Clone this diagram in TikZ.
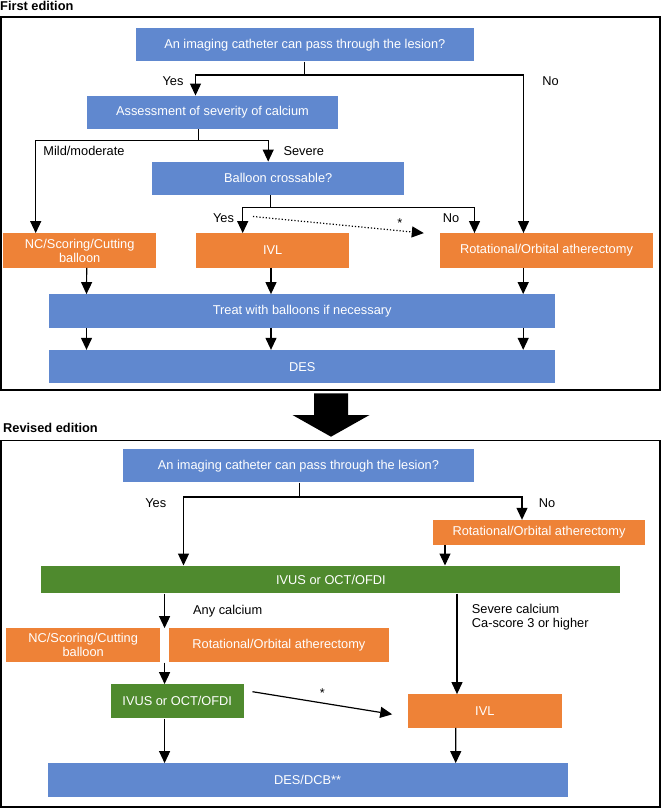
\documentclass[tikz,border=0pt]{standalone}
\usepackage{fontspec}
\setmainfont{Liberation Sans}
\usepackage{xcolor}
\usetikzlibrary{arrows.meta,calc}

\definecolor{boxblue}{HTML}{6088CF}
\definecolor{boxorange}{HTML}{EE8237}
\definecolor{boxgreen}{HTML}{4F8A2E}

\begin{document}
\begin{tikzpicture}[
    x=1pt, y=-1pt,
    box/.style={
        align=center,
        inner sep=2pt,
        text=white,
        font=\fontsize{12.8}{14}\selectfont
    },
    bluebox/.style={box, fill=boxblue},
    orangebox/.style={box, fill=boxorange},
    greenbox/.style={box, fill=boxgreen},
    lbl/.style={
        inner sep=0pt,
        font=\fontsize{12.8}{14}\selectfont
    },
    title/.style={
        anchor=west,
        inner sep=0pt,
        font=\fontsize{12.8}{14}\selectfont\bfseries
    },
    line/.style={line width=1.2pt},
    arrow/.style={
        -{Triangle[length=12pt,width=11pt]},
        line width=1.2pt
    },
    frame/.style={draw, line width=1.3pt}
]
\useasboundingbox (0,0) rectangle (662,809);

% ---------- First edition ----------
\node[title] (firstTitle) at (0,6) {First edition};
\draw[frame] (1,17) rectangle (660,390);

\node[bluebox, minimum width=338.5pt, minimum height=33.3pt] (imgA) at (304.8,44.7)
{An imaging catheter can pass through the lesion?};

\node[bluebox, minimum width=251pt, minimum height=33.3pt] (assess) at (212.5,112.4)
{Assessment of severity of calcium};

\node[bluebox, minimum width=251.6pt, minimum height=33.3pt] (balloon) at (278.2,178.4)
{Balloon crossable?};

\node[orangebox, minimum width=152.6pt, minimum height=34.4pt] (ncA) at (79.7,250.5)
{NC/Scoring/Cutting\\balloon};

\node[orangebox, minimum width=153.4pt, minimum height=34.4pt] (ivlA) at (272.7,250.5)
{IVL};

\node[orangebox, minimum width=213pt, minimum height=34.4pt] (rotA) at (546.5,250.5)
{Rotational/Orbital atherectomy};

\node[bluebox, minimum width=505.6pt, minimum height=33.4pt] (treat) at (302.2,311)
{Treat with balloons if necessary};

\node[bluebox, minimum width=505.6pt, minimum height=33.3pt] (des) at (302.2,366.7)
{DES};

% branch labels
\node[lbl] (yesA) at (173,80.7) {Yes};
\node[lbl] (noA) at (550.5,80.7) {No};
\node[lbl] (mild) at (84,150.7) {Mild/moderate};
\node[lbl] (severe) at (303.8,150.7) {Severe};
\node[lbl] (yesB) at (223.5,217.7) {Yes};
\node[lbl] (noB) at (451,217.7) {No};

% branching lines
\coordinate (j1) at ($(imgA.south)+(0,13.4)$);
\draw[line] (imgA.south) -- (j1);
\draw[arrow] (j1) -| ([xshift=-17pt]assess.north);
\draw[arrow] (j1) -| ([xshift=-23pt]rotA.north);

\coordinate (j2) at ($([xshift=-14pt]assess.south)+(0,11)$);
\draw[line] ([xshift=-14pt]assess.south) -- (j2);
\draw[arrow] (j2) -| ([xshift=-44pt]ncA.north);
\draw[arrow] (j2) -| ([xshift=-10pt]balloon.north);

\coordinate (j3) at ($([xshift=-8pt]balloon.south)+(0,12.3)$);
\draw[line] ([xshift=-8pt]balloon.south) -- (j3);
\draw[arrow] (j3) -| ([xshift=-30pt]ivlA.north);
\draw[arrow] (j3) -| ([xshift=-72pt]rotA.north);

% dotted shortcut
\draw[arrow, dotted] ($(ivlA.north)+(-19.7,-16.6)$) -- ($(rotA.north west)+(-16,0)$)
    node[lbl, pos=0.86, above=3pt] {*};

% into treat and DES
\draw[arrow] ([xshift=7pt]ncA.south) -- ([xshift=-215.7pt]treat.north);
\draw[arrow] ([xshift=-1.7pt]ivlA.south) -- ([xshift=-31.2pt]treat.north);
\draw[arrow] ([xshift=-23.3pt]rotA.south) -- ([xshift=221pt]treat.north);
\draw[arrow] ([xshift=-215.7pt]treat.south) -- ([xshift=-215.7pt]des.north);
\draw[arrow] ([xshift=-31.2pt]treat.south) -- ([xshift=-31.2pt]des.north);
\draw[arrow] ([xshift=221pt]treat.south) -- ([xshift=221pt]des.north);

% ---------- big arrow ----------
\fill (314,393.3) -- (348,393.3) -- (348,415) -- (369.5,415) -- (331,436.7)
    -- (292.5,415) -- (314,415) -- cycle;

% ---------- Revised edition ----------
\node[title] (revTitle) at (3,427.7) {Revised edition};
\draw[frame] (1,440.7) rectangle (660,807);

\node[bluebox, minimum width=351.2pt, minimum height=33.3pt] (imgB) at (298.4,465.7)
{An imaging catheter can pass through the lesion?};

\node[orangebox, minimum width=211.4pt, minimum height=25pt] (rotB) at (539,532.5)
{Rotational/Orbital atherectomy};

\node[greenbox, minimum width=578.9pt, minimum height=27.6pt] (ivus) at (330.9,579.5)
{IVUS or OCT/OFDI};

\node[orangebox, minimum width=154.3pt, minimum height=34pt] (ncB) at (83.2,645.3)
{NC/Scoring/Cutting\\balloon};

\node[orangebox, minimum width=220.2pt, minimum height=34pt] (rotC) at (278.9,645.3)
{Rotational/Orbital atherectomy};

\node[greenbox, minimum width=133.4pt, minimum height=34pt] (ivusB) at (177.2,701.3)
{IVUS or OCT/OFDI};

\node[orangebox, minimum width=154.4pt, minimum height=33.4pt] (ivlB) at (484.8,711)
{IVL};

\node[bluebox, minimum width=519.8pt, minimum height=33.4pt] (desdcb) at (307.6,780)
{DES/DCB**};

% branch labels
\node[lbl] (yesC) at (155.7,502.7) {Yes};
\node[lbl] (noC) at (547,502.7) {No};
\node[lbl, anchor=west] (anyCa) at (193,611) {Any calcium};
\node[lbl, anchor=north west, align=left] (sevCa) at (471.7,604)
{Severe calcium\\Ca-score 3 or higher};

% branching lines
\coordinate (j4) at ($([xshift=1.2pt]imgB.south)+(0,14.4)$);
\draw[line] ([xshift=1.2pt]imgB.south) -- (j4);
\draw[arrow] (j4) -| ([xshift=-147.4pt]ivus.north);
\draw[arrow] (j4) -| ([xshift=-17pt]rotB.north);
\draw[arrow] ([xshift=-94pt]rotB.south) -- ([xshift=114.1pt]ivus.north);

% any calcium path through the gap
\coordinate (gapTop) at ($(ncB.north east)!0.5!(rotC.north west)$);
\coordinate (gapBot) at ($(ncB.south east)!0.5!(rotC.south west)$);
\draw[arrow] (ivus.south -| gapTop) -- (gapTop);
\draw[arrow] (gapBot) -- (ivusB.north -| gapBot);
\draw[arrow] (ivusB.south -| gapBot) -- (desdcb.north -| gapBot);

% severe calcium path
\draw[arrow] ([xshift=126.1pt]ivus.south) -- ([xshift=-27.8pt]ivlB.north);
\draw[arrow] ([xshift=-29pt]ivlB.south) -- ([xshift=148.1pt]desdcb.north);

% shortcut to IVL
\draw[arrow] ($(ivusB.east)+(8.4,-9.6)$) -- ($(ivlB.west)+(-15.2,3.3)$)
    node[lbl, midway, above=5pt] {*};

\end{tikzpicture}
\end{document}
